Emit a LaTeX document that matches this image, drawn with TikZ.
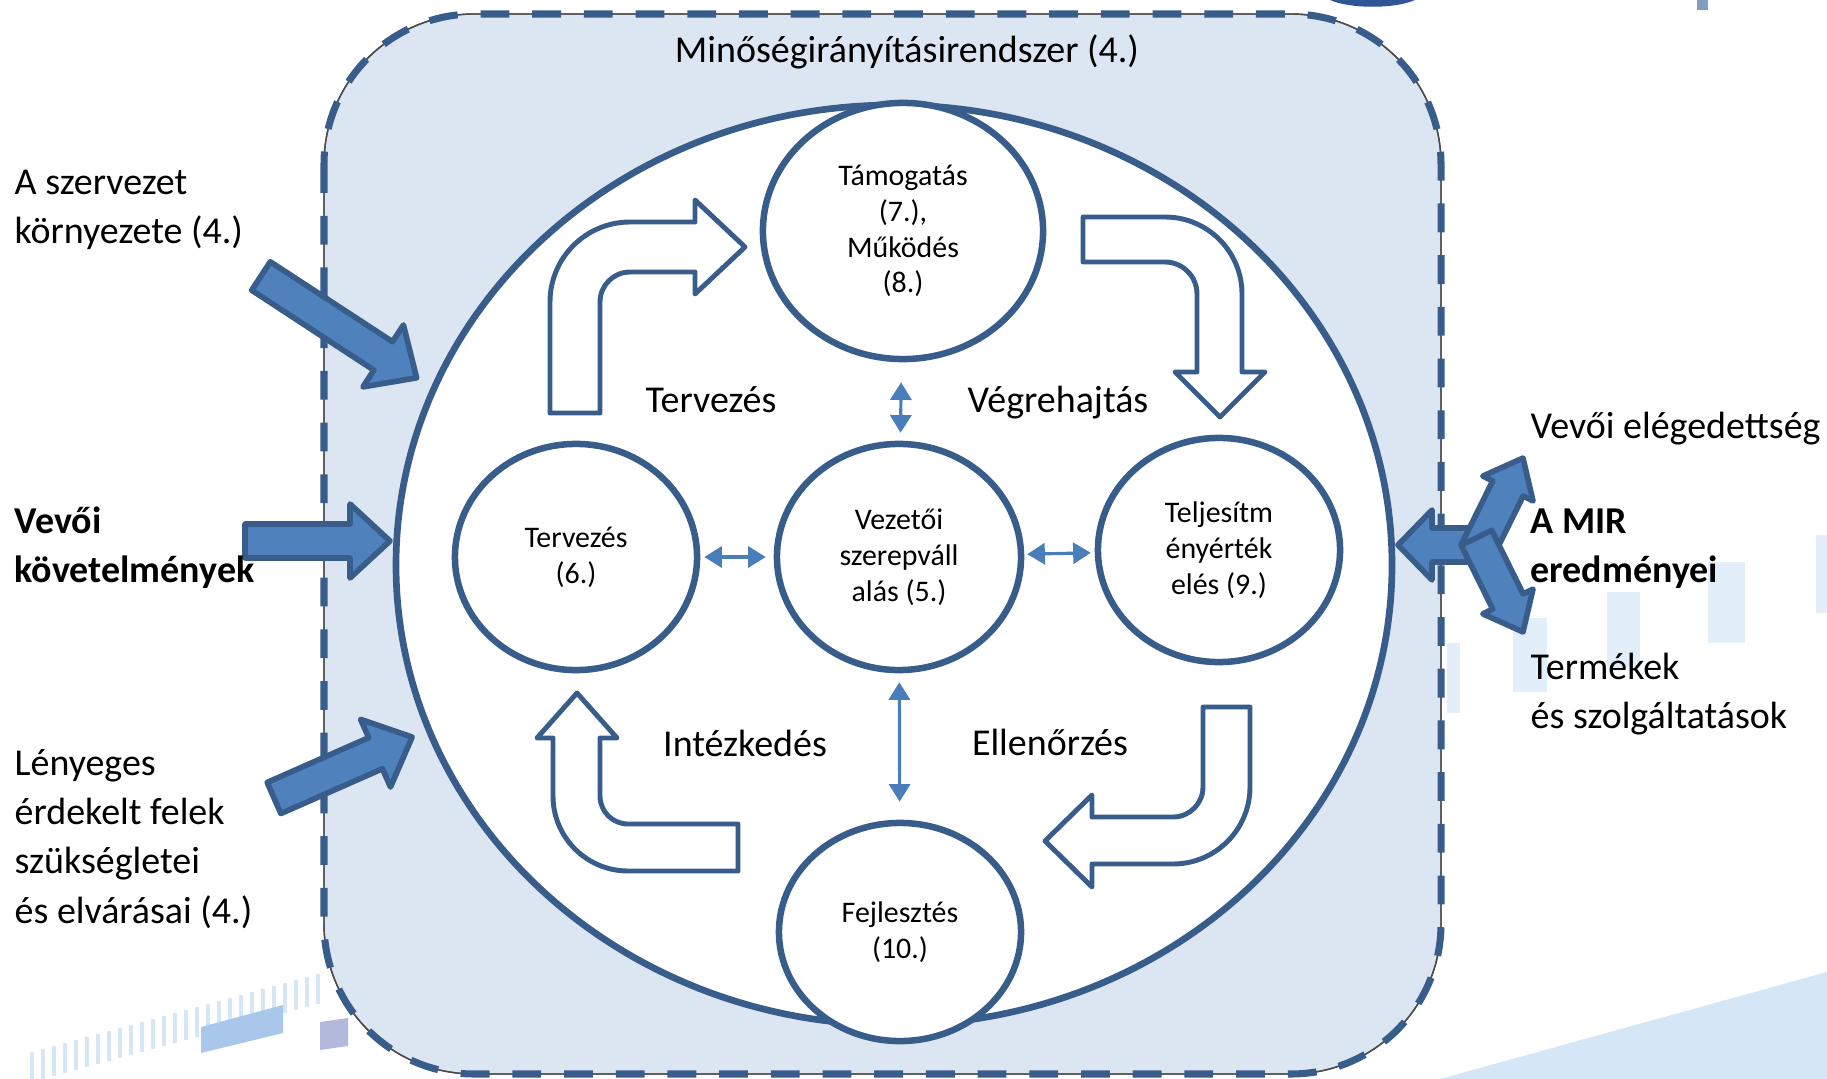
\documentclass[tikz,border=0pt]{standalone}
\usepackage{fontspec}
\setmainfont{Carlito}
\usepackage{xcolor}
\usepackage{tikz}
\usetikzlibrary{shapes.geometric,arrows.meta}
\tikzset{>={Triangle[width=6pt,length=5pt]}}

\definecolor{mirdark}{HTML}{385D8A}
\definecolor{mirmid}{HTML}{4F81BD}
\definecolor{mirlight}{HTML}{DCE6F2}
\definecolor{mirlink}{HTML}{4A7EBB}
\definecolor{decopale}{HTML}{D5E7F7}
\definecolor{decofaint}{HTML}{E2EFFA}
\definecolor{decoblue}{HTML}{A8C7EA}
\definecolor{decolav}{HTML}{B3B8DD}
\definecolor{decotop}{HTML}{2F5597}
\definecolor{decogray}{HTML}{7F9CC2}

\begin{document}
\begin{tikzpicture}[x=0.01cm, y=-0.01cm,
                    mirframe/.style={fill=mirlight, draw=black!70, line width=0.4pt},
                    framedash/.style={draw=mirdark, line width=2pt, dash pattern=on 8.2pt off 6.5pt},
                    ring/.style={draw=mirdark, line width=1.9pt, fill=white},
                    stage/.style={ellipse, draw=mirdark, line width=1.85pt, fill=white, inner sep=0pt,
                                  align=center, font=\fontsize{8.5}{10.2}\selectfont},
                    bentarrow/.style={draw=mirdark, line width=1.4pt, fill=white, line join=round},
                    inarrow/.style={draw=mirdark, line width=1.6pt, fill=mirmid, line join=round},
                    link/.style={<->, draw=mirlink, fill=mirlink, line width=0.9pt},
                    phase/.style={font=\fontsize{10.8}{14}\selectfont},
                    sidetext/.style={font=\fontsize{10.8}{14}\selectfont, align=left, anchor=west, inner sep=0pt},
                   ]

\useasboundingbox (0,0) rectangle (1827,1079);

% slide background
\fill[decotop] (1330,0) .. controls (1350,9) and (1395,9) .. (1415,0) -- cycle;
\fill[decogray] (1697,0) rectangle (1708,10);
\fill[decopale] (1440,1079) -- (1827,972) -- (1827,1079) -- cycle;
\foreach \i in {0,...,26}
  \fill[decopale] ({30+\i*11},{1052-\i*3}) rectangle ++(4,30);
\fill[decoblue] (201,1027) -- (283,1005) -- (283,1033) -- (201,1053) -- cycle;
\fill[decolav] (320,1022) -- (348,1018) -- (348,1046) -- (320,1050) -- cycle;
\foreach \x/\y/\w/\h in {1447/643/13/70, 1513/618/34/74, 1607/592/33/75, 1708/562/37/81, 1816/535/11/78}
  \fill[decofaint] (\x,\y) rectangle ++(\w,\h);

\path[mirframe, rounded corners=1.5cm] (324,14) rectangle (1441,1074);
\draw[mirframe, fill=none, rounded corners=1.5cm] (324,14) rectangle (1441,1074);
\draw[framedash, rounded corners=1.5cm] (324,14) rectangle (1441,1074);

\draw[ring] (894,565) ellipse [x radius=498, y radius=460];

% PDCA arrows
\draw[bentarrow] (550,413) -- (550,302) arc[start angle=180, end angle=270, radius=80] -- (695,222) -- (695,200)
  -- (745,247) -- (695,294) -- (695,272) -- (630,272) arc[start angle=270, end angle=180, radius=30] -- (600,413) -- cycle;
\draw[bentarrow] (1083,217) -- (1165,217) arc[start angle=270, end angle=360, radius=77] -- (1242,372) -- (1265,372)
  -- (1220,417) -- (1175,372) -- (1197,372) -- (1197,294) arc[start angle=0, end angle=-90, radius=32] -- (1083,262) -- cycle;
\draw[bentarrow] (738,824) -- (628,824) arc[start angle=90, end angle=180, radius=28] -- (600,738) -- (617,738)
  -- (577,693) -- (537,738) -- (553,738) -- (553,796) arc[start angle=180, end angle=90, radius=75] -- (738,871) -- cycle;
\draw[bentarrow] (1203,707) -- (1250,707) -- (1250,787) arc[start angle=0, end angle=90, radius=77] -- (1092,864)
  -- (1092,887) -- (1045,841) -- (1092,795) -- (1092,817) -- (1173,817) arc[start angle=90, end angle=0, radius=30] -- cycle;

\node[stage, minimum width=2.8cm, minimum height=2.56cm] (tam) at (903,231) {Támogatás\\(7.),\\Működés\\(8.)};
\node[stage, minimum width=2.42cm, minimum height=2.26cm] (terv) at (576,557) {Tervezés\\(6.)};
\node[stage, minimum width=2.44cm, minimum height=2.26cm] (vez) at (899,557) {Vezetői\\szerepváll\\alás (5.)};
\node[stage, minimum width=2.42cm, minimum height=2.24cm] (telj) at (1219,550) {Teljesítm\\ényérték\\elés (9.)};
\node[stage, minimum width=2.42cm, minimum height=2.18cm] (fejl) at (900,932) {Fejlesztés\\(10.)};

\draw[link, shorten <=0.2cm, shorten >=0.08cm] (tam) -- (vez);
\draw[link, shorten <=0.04cm, shorten >=0.08cm] (terv) -- (vez);
\draw[link, shorten <=0.03cm, shorten >=0.04cm] (vez) -- (telj);
\draw[link, shorten <=0.09cm, shorten >=0.18cm] (vez) -- (fejl);

% inputs and outputs
\foreach \ax/\ay/\rot/\len in {261/276/-33.2/186, 245/541/0/145, 274/798/23.8/151}
  \draw[inarrow, shift={(\ax,\ay)}, rotate=\rot] (0,-17) -- ({\len-40},-17) -- ({\len-40},-37) -- (\len,0)
    -- ({\len-40},37) -- ({\len-40},17) -- (0,17) -- cycle;
\foreach \rot/\len/\hw in {180/82/35, 63.7/97/28, -63.7/97/28}
  \draw[inarrow, shift={(1480,545)}, rotate=\rot] (-8,-17) -- ({\len-34},-17) -- ({\len-34},-\hw) -- (\len,0)
    -- ({\len-34},\hw) -- ({\len-34},17) -- (-8,17) -- cycle;

\node[phase] (title) at (907,52) {Minőségirányításirendszer (4.)};
\node[phase] (lplan) at (711,400) {Tervezés};
\node[phase] (ldo) at (1058,403) {Végrehajtás};
\node[phase] (lact) at (745,743) {Intézkedés};
\node[phase] (lcheck) at (1050,742) {Ellenőrzés};

\node[sidetext] (env) at (14,210) {A szervezet\\környezete (4.)};
\node[sidetext, font=\fontsize{10.8}{14}\selectfont\bfseries] (req) at (14,548) {Vevői\\követelmények};
\node[sidetext] (party) at (14,839) {Lényeges\\érdekelt felek\\szükségletei\\és elvárásai (4.)};
\node[sidetext] (sat) at (1530,429) {Vevői elégedettség};
\node[sidetext, font=\fontsize{10.8}{14}\selectfont\bfseries] (mir) at (1530,549) {A MIR\\eredményei};
\node[sidetext] (prod) at (1530,694) {Termékek\\és szolgáltatások};

\end{tikzpicture}
\end{document}
